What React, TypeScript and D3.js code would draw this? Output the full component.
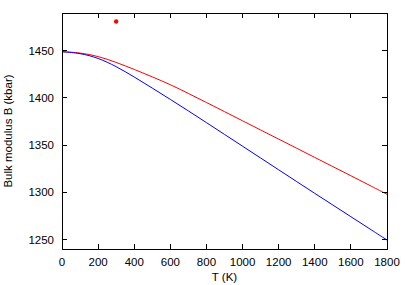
import React from 'react';
import * as d3 from 'd3';

// temperatures (K) where the curves are sampled
const temps = [0, 100, 200, 300, 400, 500, 600, 700, 800, 900, 1000, 1100, 1200, 1300, 1400, 1500, 1600, 1700, 1800];
// bulk modulus, red curve (kbar)
const bulkRed = [1449, 1448, 1444.3, 1437.8, 1430.3, 1422.4, 1414.2, 1404.8, 1395.2, 1385.5, 1375.8, 1366.1, 1356.4, 1346.7, 1337, 1327.3, 1317.6, 1307.8, 1298];
// bulk modulus, blue curve (kbar)
const bulkBlue = [1449, 1447.5, 1442.5, 1433.5, 1422.3, 1410.5, 1398.5, 1386.3, 1373.9, 1361.4, 1348.9, 1336.4, 1323.9, 1311.4, 1298.9, 1286.6, 1274.2, 1261.9, 1249.5];
// experimental point
const expT = [300];
const expB = [1481];

const xTicks = [0, 200, 400, 600, 800, 1000, 1200, 1400, 1600, 1800];
const yTicks = [1250, 1300, 1350, 1400, 1450];

const W = 407;
const H = 285;
const left = 62, right = 387, top = 13, bottom = 249;
const FONT = '"Liberation Sans", Arial, sans-serif';

export default function App() {
  const x = d3.scaleLinear().domain([0, 1800]).range([left, right]);
  const y = d3.scaleLinear().domain([1240, 1490]).range([bottom, top]);

  const line = d3.line<number>()
    .x((_, i) => x(temps[i]))
    .y(d => y(d))
    .curve(d3.curveBasis);

  const tick = 5;

  return (
    <div style={{ position: 'absolute', left: 0, top: 0 }}>
      <svg width={W} height={H} style={{ display: 'block', background: '#fff' }}>
        <path d={line(bulkRed) || ''} fill="none" stroke="#ff0000" strokeWidth={1} />
        <path d={line(bulkBlue) || ''} fill="none" stroke="#0000ff" strokeWidth={1} />
        {expT.map((t, i) => (
          <circle key={i} cx={x(t)} cy={y(expB[i])} r={2.2} fill="#ff0000" />
        ))}

        <g stroke="#000" strokeWidth={1} shapeRendering="crispEdges">
          <rect x={left} y={top} width={right - left} height={bottom - top} fill="none" />
          {xTicks.map(t => (
            <g key={'x' + t}>
              <line x1={x(t)} x2={x(t)} y1={bottom} y2={bottom - tick} />
              <line x1={x(t)} x2={x(t)} y1={top} y2={top + tick} />
            </g>
          ))}
          {yTicks.map(v => (
            <g key={'y' + v}>
              <line x1={left} x2={left + tick} y1={y(v)} y2={y(v)} />
              <line x1={right} x2={right - tick} y1={y(v)} y2={y(v)} />
            </g>
          ))}
        </g>

        <g fontFamily={FONT} fontSize={11.5} fill="#000">
          {xTicks.map(t => (
            <text key={'xl' + t} x={x(t)} y={bottom + 17} textAnchor="middle">{t}</text>
          ))}
          {yTicks.map(v => (
            <text key={'yl' + v} x={left - 8} y={y(v) + 4} textAnchor="end">{v}</text>
          ))}
          <text x={(left + right) / 2} y={bottom + 32} textAnchor="middle">T (K)</text>
          <text transform={`translate(12,${(top + bottom) / 2}) rotate(-90)`} textAnchor="middle">Bulk modulus B (kbar)</text>
        </g>
      </svg>
    </div>
  );
}
